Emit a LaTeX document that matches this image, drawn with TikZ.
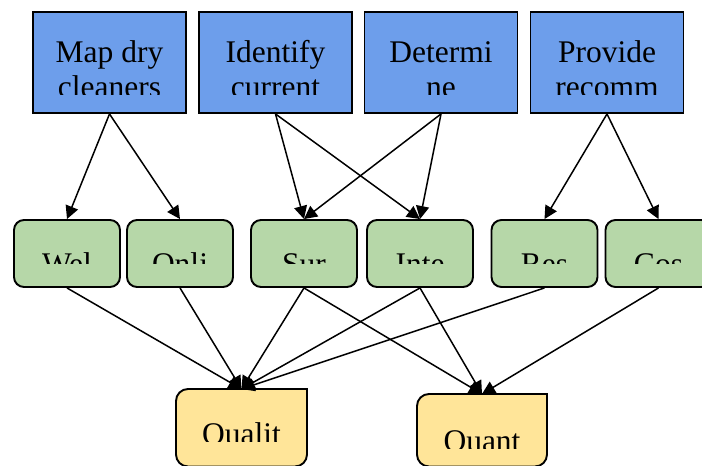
\documentclass[tikz,border=0pt]{standalone}
\usepackage{fontspec}
\setmainfont{Liberation Serif}
\usetikzlibrary{arrows.meta}
\definecolor{topblue}{HTML}{6D9EEB}
\definecolor{midgreen}{HTML}{B6D7A8}
\definecolor{lowyellow}{HTML}{FFE599}

\begin{document}
\begin{tikzpicture}[x=1pt,y=-1pt,
	taskbox/.style={draw,fill=topblue,line width=1.9pt,minimum width=153pt,minimum height=101pt,inner sep=0pt},
	methbox/.style={draw,fill=midgreen,line width=1.9pt,rounded corners=10pt,minimum width=106pt,minimum height=67pt,inner sep=0pt},
	databox/.style={inner sep=0pt,outer sep=0pt},
	datashape/.style={draw,fill=lowyellow,line width=1.9pt,line cap=rect},
	boxtext/.style={font=\fontsize{31.5}{35}\selectfont,inner sep=0pt,anchor=base,align=center},
	arr/.style={-{Triangle[length=13pt,width=13pt]},line width=1.5pt}]
	\clip (0,0) rectangle (702,466);
	% top row
	\node[taskbox] (map) at (109.5,62.5) {};
	\node[taskbox] (ident) at (275.5,62.5) {};
	\node[taskbox] (determ) at (441,62.5) {};
	\node[taskbox] (provide) at (607,62.5) {};
	\begin{scope}
		\clip (30,14) rectangle (690,94.5);
		\node[boxtext] (maptext) at (109.5,97.5) {Map dry\\cleaners};
		\node[boxtext] (identtext) at (275.5,97.5) {Identify\\current};
		\node[boxtext] (determtext) at (441,97.5) {Determi\\ne};
		\node[boxtext] (providetext) at (607,97.5) {Provide\\recomm};
	\end{scope}
	% middle row
	\node[methbox] (web) at (67,253.5) {};
	\node[methbox] (onli) at (180,253.5) {};
	\node[methbox] (sur) at (304,253.5) {};
	\node[methbox] (inte) at (420,253.5) {};
	\node[methbox] (res) at (544.5,253.5) {};
	\node[methbox] (cos) at (658.5,253.5) {};
	\begin{scope}
		\clip (0,222) rectangle (702,263);
		\node[boxtext] (webtext) at (67,274) {Wel};
		\node[boxtext] (onlitext) at (180,274) {Onli};
		\node[boxtext] (surtext) at (304,274) {Sur};
		\node[boxtext] (intetext) at (420,274) {Inte};
		\node[boxtext] (restext) at (544.5,274) {Res};
		\node[boxtext] (costext) at (658.5,274) {Cos};
	\end{scope}
	% bottom row
	\node[databox,minimum width=131pt,minimum height=77.5pt] (qual) at (241.5,427.75) {};
	\node[databox,minimum width=130pt,minimum height=72.5pt] (quant) at (482,430.25) {};
	\filldraw[datashape] (qual.north east) [rounded corners=12pt] -- (qual.south east) -- (qual.south west) -- (qual.north west) -- (qual.north east);
	\filldraw[datashape] (quant.north east) [rounded corners=12pt] -- (quant.south east) -- (quant.south west) -- (quant.north west) -- (quant.north east);
	\begin{scope}
		\clip (170,392) rectangle (310,441.7);
		\node[boxtext] (qualtext) at (241.5,444.2) {Qualit};
	\end{scope}
	\begin{scope}
		\clip (410,396) rectangle (550,448.3);
		\node[boxtext] (quanttext) at (482,451) {Quant};
	\end{scope}
	% connectors
	\draw[arr] (map.south) -- (web.north);
	\draw[arr] (map.south) -- (onli.north);
	\draw[arr] (ident.south) -- (sur.north);
	\draw[arr] (ident.south) -- (inte.north);
	\draw[arr] (determ.south) -- (sur.north);
	\draw[arr] (determ.south) -- (inte.north);
	\draw[arr] (provide.south) -- (res.north);
	\draw[arr] (provide.south) -- (cos.north);
	\draw[arr] (web.south) -- (qual.north);
	\draw[arr] (onli.south) -- (qual.north);
	\draw[arr] (sur.south) -- (qual.north);
	\draw[arr] (inte.south) -- (qual.north);
	\draw[arr] (res.south) -- (qual.north);
	\draw[arr] (sur.south) -- (quant.north);
	\draw[arr] (inte.south) -- (quant.north);
	\draw[arr] (cos.south) -- (quant.north);
\end{tikzpicture}
\end{document}
